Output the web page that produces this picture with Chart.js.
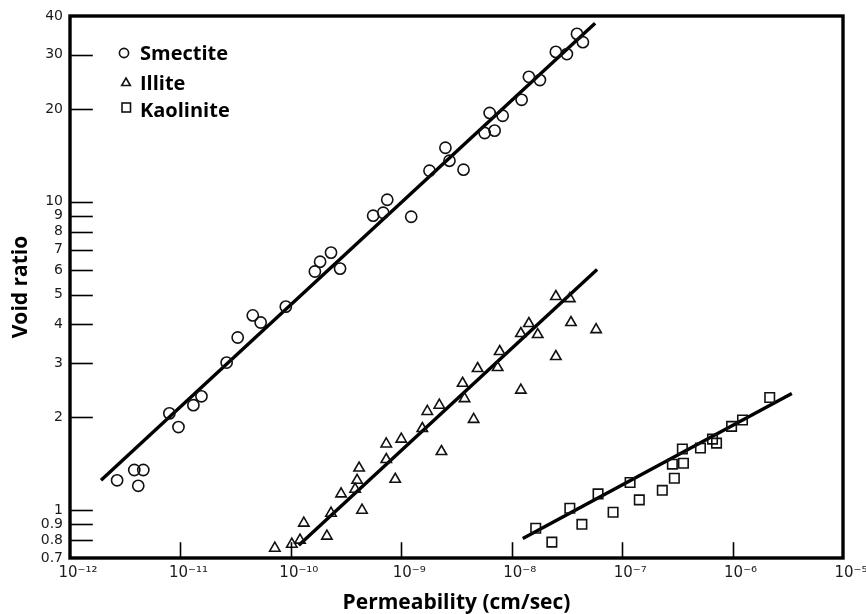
<!DOCTYPE html>
<html><head><meta charset="utf-8">
<script src="https://cdn.jsdelivr.net/npm/chart.js@4.4.1/dist/chart.umd.min.js"></script>
<style>html,body{margin:0;padding:0;background:#fff}#wrap{width:866px;height:614px;position:relative}</style>
</head><body><div id="wrap"><canvas id="c" width="866" height="614"></canvas></div>
<script>
// ---- data ----
const X_TICKS = [1e-12, 1e-11, 1e-10, 1e-9, 1e-8, 1e-7, 1e-6, 1e-5];
const Y_TICKS = [0.7, 0.8, 0.9, 1, 2, 3, 4, 5, 6, 7, 8, 9, 10, 20, 30, 40];
const SERIES_NAMES = ['Smectite', 'Illite', 'Kaolinite'];

const smectiteK = [2.67e-12, 3.82e-12, 4.61e-12, 4.15e-12, 7.94e-12, 9.6e-12, 1.31e-11, 1.55e-11, 2.62e-11, 3.30e-11,
  4.52e-11, 5.33e-11, 9.0e-11, 1.65e-10, 1.84e-10, 2.31e-10, 2.79e-10, 5.56e-10, 6.86e-10, 7.46e-10,
  1.23e-9, 1.80e-9, 2.51e-9, 2.73e-9, 3.66e-9, 5.69e-9, 7.0e-9, 6.31e-9, 8.28e-9, 1.23e-8,
  1.43e-8, 1.80e-8, 2.51e-8, 3.16e-8, 3.90e-8, 4.41e-8];
const smectiteE = [1.25, 1.35, 1.35, 1.20, 2.06, 1.86, 2.19, 2.34, 3.01, 3.63,
  4.28, 4.06, 4.57, 5.94, 6.39, 6.84, 6.07, 9.01, 9.21, 10.15,
  8.94, 12.6, 14.96, 13.58, 12.7, 16.7, 17.0, 19.4, 19.0, 21.4,
  25.4, 24.8, 30.6, 30.1, 35.0, 32.9];

const illiteK = [7.16e-11, 1.02e-10, 1.21e-10, 1.31e-10, 2.12e-10, 2.31e-10, 2.85e-10, 3.82e-10, 3.98e-10, 4.15e-10,
  4.41e-10, 7.31e-10, 7.31e-10, 1.0e-9, 8.81e-10, 1.55e-9, 1.72e-9, 2.21e-9, 2.31e-9, 3.59e-9,
  3.74e-9, 4.52e-9, 4.91e-9, 7.46e-9, 7.78e-9, 1.21e-8, 1.21e-8, 1.43e-8, 1.72e-8, 2.51e-8,
  2.51e-8, 3.36e-8, 3.44e-8, 5.81e-8];
const illiteE = [0.753, 0.776, 0.80, 0.908, 0.824, 0.978, 1.13, 1.17, 1.25, 1.37,
  1.0, 1.46, 1.64, 1.70, 1.26, 1.84, 2.09, 2.19, 1.55, 2.58,
  2.30, 1.97, 2.88, 2.90, 3.27, 2.45, 3.74, 4.03, 3.71, 4.93,
  3.15, 4.85, 4.06, 3.85];

const kaoliniteK = [1.65e-8, 2.31e-8, 3.36e-8, 4.32e-8, 6.05e-8, 8.28e-8, 1.18e-7, 1.43e-7, 2.31e-7, 2.97e-7,
  2.85e-7, 3.59e-7, 3.51e-7, 5.12e-7, 6.58e-7, 7.16e-7, 9.8e-7, 1.23e-6, 2.17e-6];
const kaoliniteE = [0.874, 0.788, 1.015, 0.90, 1.13, 0.985, 1.23, 1.08, 1.16, 1.27,
  1.41, 1.42, 1.58, 1.59, 1.70, 1.65, 1.87, 1.96, 2.32];

// fitted trend lines (endpoints)
const smectiteFitK = [1.91e-12, 5.69e-8];
const smectiteFitE = [1.25, 37.9];
const illiteFitK = [1.18e-10, 5.93e-8];
const illiteFitE = [0.77, 6.03];
const kaoliniteFitK = [1.26e-8, 3.44e-6];
const kaoliniteFitE = [0.81, 2.39];

// ---- helpers ----
const zip = (xs, ys) => xs.map((x, i) => ({x: x, y: ys[i]}));
const SUP = {'-': '\u207B', '0': '\u2070', '1': '\u00B9', '2': '\u00B2', '3': '\u00B3', '4': '\u2074', '5': '\u2075', '6': '\u2076', '7': '\u2077', '8': '\u2078', '9': '\u2079'};
const sup = s => String(s).split('').map(ch => SUP[ch] || ch).join('');

const INK = '#111';
const markerDefaults = {borderColor: INK, backgroundColor: 'rgba(0,0,0,0)', borderWidth: 1.6, showLine: false};

const datasets = [
  Object.assign({label: SERIES_NAMES[0], data: zip(smectiteK, smectiteE), pointStyle: 'circle', pointRadius: 5.6}, markerDefaults),
  Object.assign({label: SERIES_NAMES[1], data: zip(illiteK, illiteE), pointStyle: 'triangle', pointRadius: 6}, markerDefaults),
  Object.assign({label: SERIES_NAMES[2], data: zip(kaoliniteK, kaoliniteE), pointStyle: 'rect', pointRadius: 6.7}, markerDefaults),
  {label: 'fit1', data: zip(smectiteFitK, smectiteFitE), showLine: true, pointRadius: 0, borderColor: '#000', borderWidth: 3.4},
  {label: 'fit2', data: zip(illiteFitK, illiteFitE), showLine: true, pointRadius: 0, borderColor: '#000', borderWidth: 3.4},
  {label: 'fit3', data: zip(kaoliniteFitK, kaoliniteFitE), showLine: true, pointRadius: 0, borderColor: '#000', borderWidth: 3.4}
];

const framePlugin = {
  id: 'frameAndTicks',
  afterDatasetsDraw(chart) {
    const {ctx, chartArea: a, scales} = chart;
    ctx.save();
    ctx.strokeStyle = '#000';
    ctx.lineCap = 'square';
    // inward tick marks
    ctx.lineWidth = 1.6;
    Y_TICKS.forEach(v => {
      if (v === Y_TICKS[0] || v === Y_TICKS[Y_TICKS.length - 1]) return;
      const y = Math.round(scales.y.getPixelForValue(v)) + 0.5;
      ctx.beginPath(); ctx.moveTo(a.left, y); ctx.lineTo(a.left + 22, y); ctx.stroke();
    });
    X_TICKS.forEach(v => {
      if (v === X_TICKS[0] || v === X_TICKS[X_TICKS.length - 1]) return;
      const x = Math.round(scales.x.getPixelForValue(v)) + 0.5;
      ctx.beginPath(); ctx.moveTo(x, a.bottom); ctx.lineTo(x, a.bottom - 15); ctx.stroke();
    });
    // frame
    ctx.lineWidth = 3.4;
    ctx.lineCap = 'butt';
    ctx.strokeRect(a.left, a.top, a.right - a.left, a.bottom - a.top);
    // legend
    const lx = a.left + 54;
    ctx.lineWidth = 1.6;
    ctx.strokeStyle = INK;
    ctx.beginPath(); ctx.arc(lx, a.top + 37, 4.6, 0, Math.PI * 2); ctx.stroke();
    const ty = a.top + 67, tr = 5;
    ctx.beginPath();
    for (let k = 0; k < 3; k++) {
      const ang = k * 2 * Math.PI / 3;
      const px = lx + 2 + Math.sin(ang) * tr, py = ty - Math.cos(ang) * tr;
      if (k === 0) ctx.moveTo(px, py); else ctx.lineTo(px, py);
    }
    ctx.closePath(); ctx.stroke();
    ctx.strokeRect(lx - 2, a.top + 87, 8.5, 9);
    ctx.fillStyle = '#000';
    ctx.font = 'bold 20px "Open Sans"';
    ctx.textBaseline = 'alphabetic';
    ctx.textAlign = 'left';
    ctx.fillText(chart.data.datasets[0].label, a.left + 70, a.top + 44);
    ctx.fillText(chart.data.datasets[1].label, a.left + 70, a.top + 74);
    ctx.fillText(chart.data.datasets[2].label, a.left + 70, a.top + 101);
    ctx.restore();
  }
};

new Chart(document.getElementById('c'), {
  type: 'scatter',
  data: {datasets: datasets},
  options: {
    responsive: false,
    animation: false,
    devicePixelRatio: 1,
    layout: {padding: {left: 0, top: 16, right: 23, bottom: 0}},
    plugins: {legend: {display: false}, tooltip: {enabled: false}},
    scales: {
      x: {
        type: 'logarithmic',
        position: 'bottom',
        min: 1e-12, max: 1e-5,
        grid: {display: false, drawTicks: false},
        border: {display: false},
        ticks: {
          autoSkip: false, maxRotation: 0, minRotation: 0, padding: 6, labelOffset: 8,
          color: '#1a1a1a', font: {family: 'DejaVu Sans', size: 15},
          callback: v => '10' + sup(Math.round(Math.log10(v)))
        },
        afterBuildTicks: s => { s.ticks = X_TICKS.map(v => ({value: v})); },
        afterFit: s => { s.height = 56; },
        title: {display: true, text: 'Permeability (cm/sec)', color: '#000',
          font: {family: 'Open Sans', weight: 'bold', size: 21, lineHeight: 1}, padding: {top: 0, bottom: 0}}
      },
      y: {
        type: 'logarithmic',
        position: 'left',
        min: 0.7, max: 40,
        grid: {display: false, drawTicks: false},
        border: {display: false},
        ticks: {
          autoSkip: false, padding: 7,
          color: '#1a1a1a', font: {family: 'DejaVu Sans', size: 14},
          callback: v => String(v)
        },
        afterBuildTicks: s => { s.ticks = Y_TICKS.map(v => ({value: v})); },
        afterFit: s => { s.width = 70; },
        title: {display: true, text: 'Void ratio', color: '#000',
          font: {family: 'Open Sans', weight: 'bold', size: 21, lineHeight: 1}, padding: {top: 11, bottom: 0}}
      }
    }
  },
  plugins: [framePlugin]
});
</script>
</body></html>
